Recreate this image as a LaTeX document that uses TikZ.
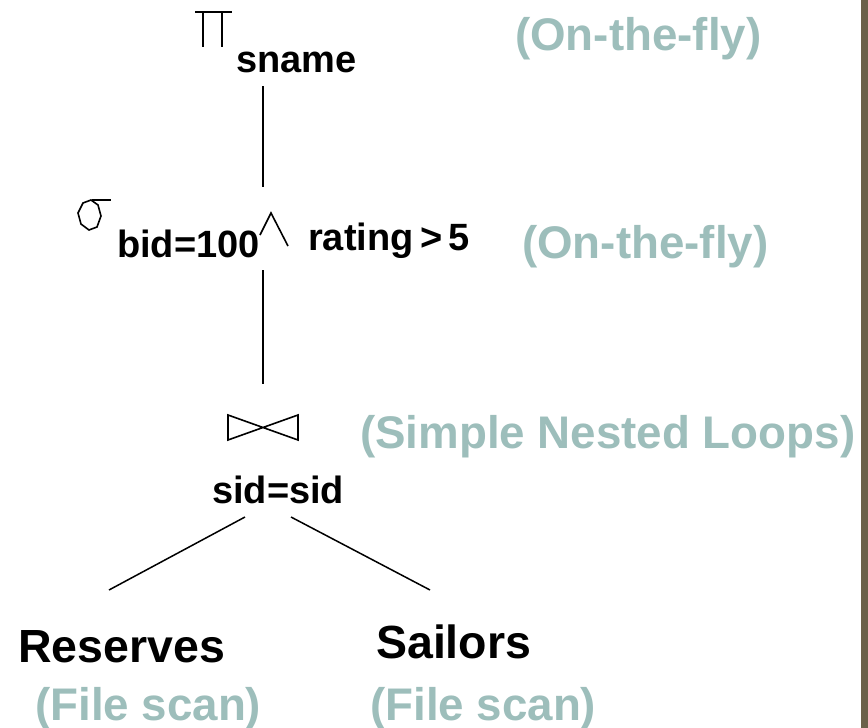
\documentclass[tikz,border=0pt]{standalone}
\usepackage{fontspec}
\setmainfont{Liberation Sans}
\definecolor{note}{RGB}{157,190,187}
\definecolor{edgebar}{RGB}{107,97,74}
\begin{document}
\begin{tikzpicture}[x=1pt,y=-1pt,
  lbl/.style={inner sep=0pt,anchor=base west,font=\fontsize{38}{40}\selectfont\bfseries},
  rel/.style={inner sep=0pt,anchor=base west,font=\fontsize{46.5}{48}\selectfont\bfseries},
  cost/.style={inner sep=0pt,anchor=base west,text=note,font=\fontsize{45.7}{47}\selectfont\bfseries},
  sym/.style={line width=1.6pt,black},
  tree/.style={line width=1.5pt,black}]
\useasboundingbox (0,0) rectangle (868,728);
\fill[white] (0,0) rectangle (868,728);
\fill[edgebar] (861,0) rectangle (868,728);

% projection
\draw[sym] (195,12) -- (232,12);
\draw[sym] (203,12) -- (203,47);
\draw[sym] (222,12) -- (222,47);
\node[lbl] (sname) at (236,72) {sname};
\node[cost] (c1) at (515,50) {(On-the-fly)};

% selection
\draw[sym] (83,203) -- (78,213) -- (81,224) -- (89,230) -- (97,227) -- (101,216) -- (98,205) -- (91,200) -- cycle;
\draw[sym] (92,200) -- (111,200);
\node[lbl] (bid) at (117,257) {bid=100};
\draw[sym] (260,235) -- (271,213) -- (288,246);
\node[lbl] (rating) at (308,250) {rating\,>\,5};
\node[cost] (c2) at (522,258) {(On-the-fly)};

% join
\draw[sym] (228,415) -- (228,440) -- (298,415) -- (298,440) -- cycle;
\node[lbl] (sid) at (212,503) {sid=sid};
\node[cost] (c3) at (360,448) {(Simple Nested Loops)};

% leaves
\node[rel] (res) at (18,662) {Reserves};
\node[rel] (sai) at (376,658) {Sailors};
\node[cost] (f1) at (35,720) {(File scan)};
\node[cost] (f2) at (370,720) {(File scan)};

% tree edges
\coordinate (pB) at (263,86);
\coordinate (sT) at (263,187);
\coordinate (sB) at (263,270);
\coordinate (jT) at (263,384);
\coordinate (jL) at (245,517);
\coordinate (jR) at (291,517);
\coordinate (rT) at (109,590);
\coordinate (aT) at (430,590);
\draw[tree] (pB) -- (sT);
\draw[tree] (sB) -- (jT);
\draw[tree] (jL) -- (rT);
\draw[tree] (jR) -- (aT);
\end{tikzpicture}
\end{document}
